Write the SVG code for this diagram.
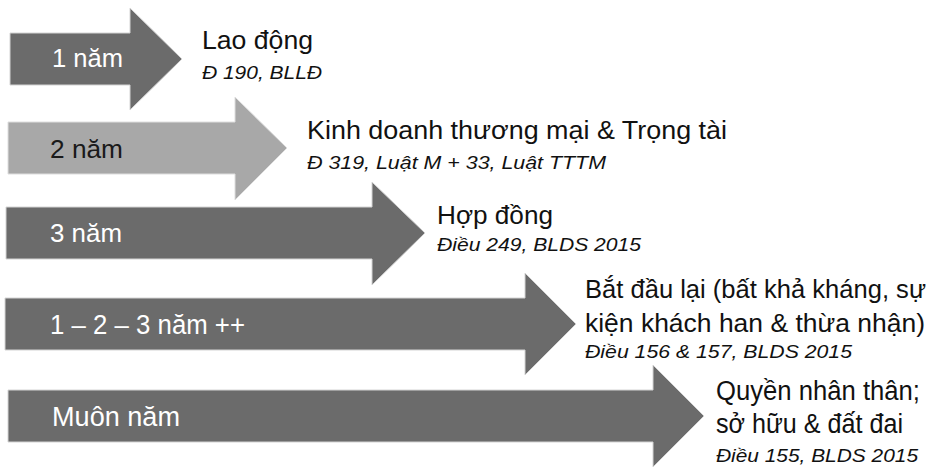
<svg xmlns="http://www.w3.org/2000/svg" width="943" height="467" viewBox="0 0 943 467">
<style>
.dark{fill:#6b6b6b;stroke:#d4d4d4;stroke-width:1}
.light{fill:#a8a8a8;stroke:#dedede;stroke-width:1}
.lab{font-family:"Liberation Sans",Arial,sans-serif;font-size:25px;fill:#ffffff}
.labc{font-family:"Liberation Sans",Arial,sans-serif;font-size:27px;fill:#ffffff}
.lab2{font-family:"Liberation Sans",Arial,sans-serif;font-size:25px;fill:#1a1a1a}
.t{font-family:"Liberation Sans",Arial,sans-serif;font-size:25px;fill:#111111}
.tb{font-family:"Liberation Sans",Arial,sans-serif;font-size:27px;fill:#111111}
.tc{font-family:"Liberation Sans",Arial,sans-serif;font-size:26px;fill:#111111}
.s{font-family:"Liberation Sans",Arial,sans-serif;font-size:19px;font-style:italic;fill:#111111}
</style>
<rect width="943" height="467" fill="#ffffff"/>
<g id="arrow1">
<polygon class="dark" points="10,33 130,33 130,8 182,59 130,110 130,85 10,85"/>
<text class="lab" x="52" y="67" textLength="71" lengthAdjust="spacingAndGlyphs">1 năm</text>
<text class="t" x="202" y="49" textLength="111" lengthAdjust="spacingAndGlyphs">Lao động</text>
<text class="s" x="202" y="79" textLength="120" lengthAdjust="spacingAndGlyphs">Đ 190, BLLĐ</text>
</g>
<g id="arrow2">
<polygon class="light" points="8,122 235,122 235,97 287,148 235,200 235,174 8,174"/>
<text class="lab2" x="50" y="158" textLength="73" lengthAdjust="spacingAndGlyphs">2 năm</text>
<text class="t" x="307" y="139" textLength="420" lengthAdjust="spacingAndGlyphs">Kinh doanh thương mại &amp; Trọng tài</text>
<text class="s" x="307" y="169" textLength="299" lengthAdjust="spacingAndGlyphs">Đ 319, Luật M + 33, Luật TTTM</text>
</g>
<g id="arrow3">
<polygon class="dark" points="6,207 372,207 372,182 425,233 372,285 372,259 6,259"/>
<text class="lab" x="50" y="242" textLength="72" lengthAdjust="spacingAndGlyphs">3 năm</text>
<text class="t" x="437" y="224" textLength="116" lengthAdjust="spacingAndGlyphs">Hợp đồng</text>
<text class="s" x="437" y="251" textLength="204" lengthAdjust="spacingAndGlyphs">Điều 249, BLDS 2015</text>
</g>
<g id="arrow4">
<polygon class="dark" points="5,298 525,298 525,273 576,324 525,375 525,350 5,350"/>
<text class="labc" x="50" y="334" textLength="195" lengthAdjust="spacingAndGlyphs">1 – 2 – 3 năm ++</text>
<text class="tc" x="585" y="298" textLength="341" lengthAdjust="spacingAndGlyphs">Bắt đầu lại (bất khả kháng, sự</text>
<text class="tc" x="585" y="332" textLength="340" lengthAdjust="spacingAndGlyphs">kiện khách han &amp; thừa nhận)</text>
<text class="s" x="585" y="358" textLength="267" lengthAdjust="spacingAndGlyphs">Điều 156 &amp; 157, BLDS 2015</text>
</g>
<g id="arrow5">
<polygon class="dark" points="8,390 653,390 653,365 704,416 653,467 653,442 8,442"/>
<text class="labc" x="52" y="426" textLength="128" lengthAdjust="spacingAndGlyphs">Muôn năm</text>
<text class="tb" x="716" y="400" textLength="204" lengthAdjust="spacingAndGlyphs">Quyền nhân thân;</text>
<text class="tb" x="716" y="433" textLength="187" lengthAdjust="spacingAndGlyphs">sở hữu &amp; đất đai</text>
<text class="s" x="716" y="462" textLength="202" lengthAdjust="spacingAndGlyphs">Điều 155, BLDS 2015</text>
</g>
<g id="connectors"></g>
</svg>
